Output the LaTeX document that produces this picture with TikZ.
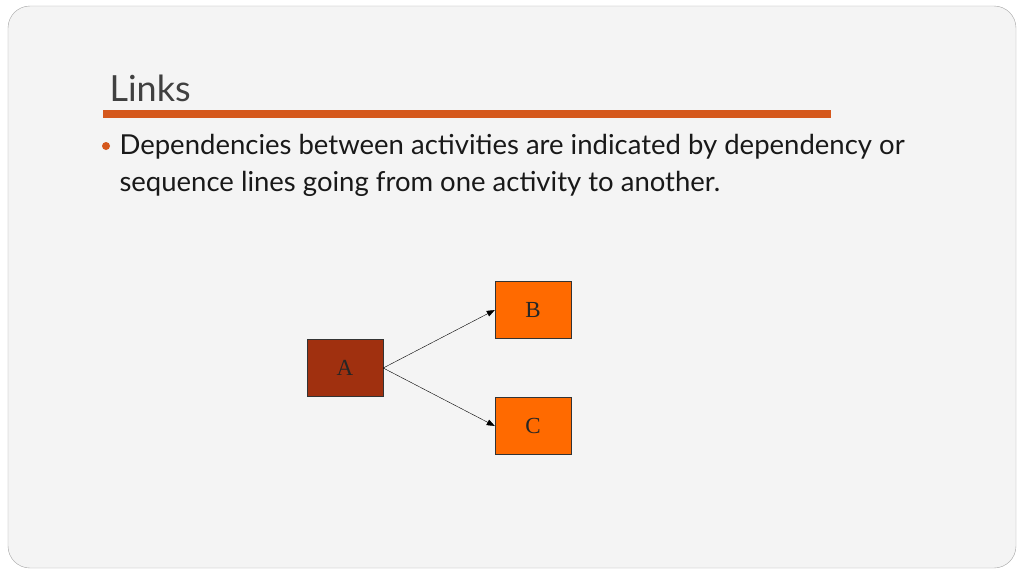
\documentclass[tikz,border=0pt]{standalone}
\usepackage{fontspec}
\setmainfont{Lato}
\newfontfamily\boxfont{Liberation Serif}
\usepackage{tikz}
\usetikzlibrary{positioning,arrows.meta}
\definecolor{slidebg}{HTML}{F4F4F4}
\definecolor{barorange}{HTML}{D5581C}
\definecolor{boxorange}{HTML}{FF6A00}
\definecolor{boxdark}{HTML}{A0300F}
\tikzset{
  activity/.style = {draw=black!80, minimum width=76pt, minimum height=57pt,
                     inner sep=0pt, font=\boxfont\fontsize{23}{23}\selectfont, text=black!85},
  link/.style = {-{Triangle[length=8pt,width=6pt]}, thin}
}
\begin{document}
\begin{tikzpicture}[x=1pt,y=-1pt]
  \useasboundingbox (0,0) rectangle (1024,576);
  \fill[white] (0,0) rectangle (1024,576);
  \draw[black!35, fill=slidebg, rounded corners=22pt] (8,6) rectangle (1016,568);
  % title and rule
  \node[anchor=west, text=black!75, font=\fontsize{36}{36}\selectfont] (title) at (106,88) {Links};
  \fill[barorange] (103,110) rectangle (831,118);
  % bullet text
  \fill[barorange] (106,146) circle (4pt);
  \node[anchor=west, align=left, text=black!90, font=\fontsize{27.5}{37}\selectfont] (body) at (116,165)
    {Dependencies between activities are indicated by dependency or\\
     sequence lines going from one activity to another.};
  % activities
  \node[activity, fill=boxdark] (a) at (345,368) {A};
  \node[activity, fill=boxorange] (b) at (533,310) {B};
  \node[activity, fill=boxorange] (c) at (533,426) {C};
  \draw[link] (a.east) -- (b.west);
  \draw[link] (a.east) -- (c.west);
\end{tikzpicture}
\end{document}
